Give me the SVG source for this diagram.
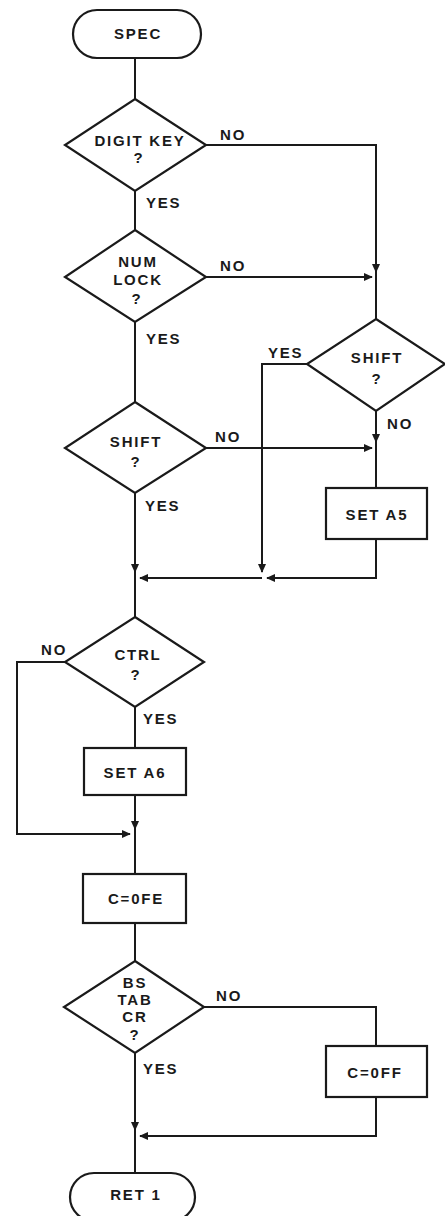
<svg xmlns="http://www.w3.org/2000/svg" width="445" height="1216" viewBox="0 0 445 1216">
<style>
.shape{fill:none;stroke:#1a1a1a;stroke-width:2.2;stroke-linejoin:miter}
.conn{fill:none;stroke:#1a1a1a;stroke-width:2}
.arr{marker-end:url(#ah)}
text{font-family:"Liberation Sans",Arial,sans-serif;font-weight:bold;font-size:15px;letter-spacing:1.8px;fill:#1a1a1a}
.c{text-anchor:middle}
</style>
<defs>
<marker id="ah" viewBox="0 0 10 10" refX="9" refY="5" markerWidth="9" markerHeight="9" markerUnits="userSpaceOnUse" orient="auto">
<path d="M0,0.5 L10,5 L0,9.5 z" fill="#1a1a1a"/>
</marker>
</defs>
<rect width="445" height="1216" fill="#fff"/>
<g id="connectors">
<path class="conn" d="M135,58 V99"/>
<path class="conn arr" d="M206,145 H376 V272"/>
<path class="conn" d="M376,272 V319"/>
<path class="conn" d="M135,191 V230"/>
<path class="conn arr" d="M206,277 H372"/>
<path class="conn" d="M135,322 V402"/>
<path class="conn arr" d="M307,364 H262 V572"/>
<path class="conn arr" d="M376,411 V442"/>
<path class="conn" d="M376,442 V488"/>
<path class="conn arr" d="M206,448 H372"/>
<path class="conn arr" d="M135,493 V572"/>
<path class="conn arr" d="M376,539 V578 H267"/>
<path class="conn arr" d="M262,578 H140"/>
<path class="conn" d="M135,572 V617"/>
<path class="conn" d="M135,707 V748"/>
<path class="conn arr" d="M65,662 H17 V834 H130"/>
<path class="conn arr" d="M135,795 V829"/>
<path class="conn" d="M135,829 V874"/>
<path class="conn" d="M135,923 V961"/>
<path class="conn" d="M204,1007 H376 V1046"/>
<path class="conn arr" d="M135,1053 V1130"/>
<path class="conn" d="M135,1130 V1173"/>
<path class="conn arr" d="M376,1097 V1136 H140"/>
</g>
<g id="labels">
<text x="220" y="140">NO</text>
<text x="146" y="208">YES</text>
<text x="220" y="271">NO</text>
<text x="146" y="344">YES</text>
<text x="268" y="358">YES</text>
<text x="387" y="429">NO</text>
<text x="215" y="442">NO</text>
<text x="145" y="511">YES</text>
<text x="41" y="655">NO</text>
<text x="143" y="724">YES</text>
<text x="216" y="1001">NO</text>
<text x="143" y="1074">YES</text>
</g>
<g id="spec">
<rect class="shape" x="73" y="10" width="128" height="48" rx="24"/>
<text class="c" x="138" y="39">SPEC</text>
</g>
<g id="digit-key">
<polygon class="shape" points="135,99 206,145 135,191 65,145"/>
<text class="c" x="140" y="146">DIGIT KEY</text>
<text class="c" x="139" y="163">?</text>
</g>
<g id="num-lock">
<polygon class="shape" points="135,230 206,277 135,322 65,277"/>
<text class="c" x="138" y="267">NUM</text>
<text class="c" x="138" y="285">LOCK</text>
<text class="c" x="137" y="304">?</text>
</g>
<g id="shift-right">
<polygon class="shape" points="376,319 445,364 376,411 307,364"/>
<text class="c" x="377" y="363">SHIFT</text>
<text class="c" x="377" y="384">?</text>
</g>
<g id="shift-left">
<polygon class="shape" points="135,402 206,448 135,493 65,448"/>
<text class="c" x="136" y="447">SHIFT</text>
<text class="c" x="136" y="467">?</text>
</g>
<g id="set-a5">
<rect class="shape" x="326" y="488" width="101" height="51"/>
<text class="c" x="377" y="520">SET A5</text>
</g>
<g id="ctrl">
<polygon class="shape" points="135,617 204,662 135,707 65,662"/>
<text class="c" x="138" y="660">CTRL</text>
<text class="c" x="136" y="680">?</text>
</g>
<g id="set-a6">
<rect class="shape" x="84" y="748" width="102" height="47"/>
<text class="c" x="135" y="778">SET A6</text>
</g>
<g id="c-0fe">
<rect class="shape" x="83" y="874" width="103" height="49"/>
<text class="c" x="136" y="904">C=0FE</text>
</g>
<g id="bs-tab-cr">
<polygon class="shape" points="135,961 204,1007 135,1053 64,1007"/>
<text class="c" x="135" y="988">BS</text>
<text class="c" x="135" y="1005">TAB</text>
<text class="c" x="135" y="1022">CR</text>
<text class="c" x="135" y="1040">?</text>
</g>
<g id="c-0ff">
<rect class="shape" x="326" y="1046" width="101" height="51"/>
<text class="c" x="375" y="1078">C=0FF</text>
</g>
<g id="ret1">
<rect class="shape" x="70" y="1173" width="125" height="48" rx="24"/>
<text class="c" x="136" y="1200">RET 1</text>
</g>
</svg>
